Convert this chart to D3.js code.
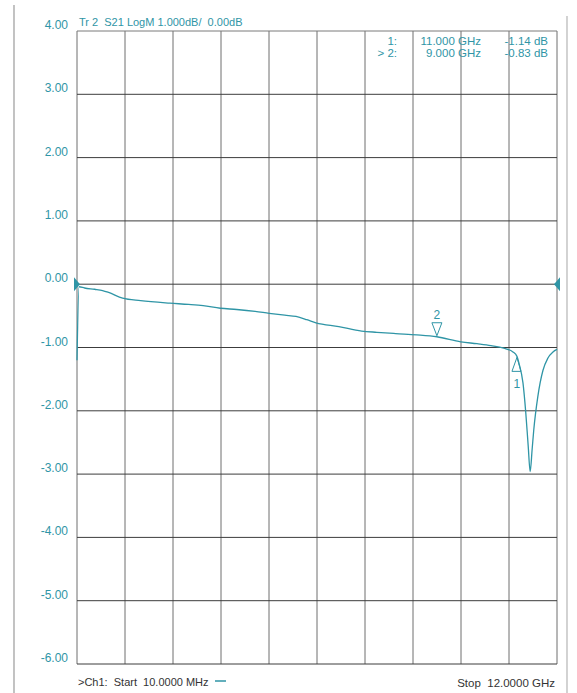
<!DOCTYPE html>
<html><head><meta charset="utf-8">
<script src="https://cdn.jsdelivr.net/npm/d3@7"></script>
<style>
html,body{margin:0;padding:0;background:#fff;}
svg text{font-family:"Liberation Sans",Arial,sans-serif;white-space:pre;}
</style></head>
<body>
<svg id="chart" width="577" height="693"></svg>
<script>
// ---- data ----
const startGHz = 0.01, stopGHz = 12.0;
const yTickValues = [4, 3, 2, 1, 0, -1, -2, -3, -4, -5, -6];
const yTickLabels = ["4.00","3.00","2.00","1.00","0.00","-1.00","-2.00","-3.00","-4.00","-5.00","-6.00"];
const freqGHz = [0.01, 0.06, 0.2, 0.45, 0.65, 0.8, 1.15, 1.6, 2.33, 2.8, 3.16, 3.59, 4.0, 4.46, 4.81, 5.2, 5.48, 5.75, 5.98, 6.55, 7.12, 7.5, 7.97, 8.5, 9.0, 9.6, 10.0, 10.35, 10.67, 10.9, 11.0, 11.05, 11.15, 11.22, 11.28, 11.33, 11.38, 11.42, 11.52, 11.65, 11.77, 11.9, 12.0];
const s21dB   = [-1.20, -0.04, -0.06, -0.08, -0.10, -0.13, -0.22, -0.26, -0.30, -0.32, -0.34, -0.38, -0.40, -0.43, -0.46, -0.49, -0.51, -0.56, -0.61, -0.67, -0.74, -0.76, -0.78, -0.80, -0.83, -0.91, -0.94, -0.97, -1.01, -1.07, -1.14, -1.25, -1.56, -2.03, -2.55, -2.96, -2.60, -2.30, -1.78, -1.36, -1.17, -1.07, -1.03];
const markerIds = ["1", "2"];
const markerFreq = [11.0, 9.0];
const markerVal = [-1.14, -0.83];
const markerFreqText = ["11.000 GHz", "9.000 GHz"];
const markerValText = ["-1.14 dB", "-0.83 dB"];
const markerPrefix = ["1:", "> 2:"];
const titleText = "Tr 2  S21 LogM 1.000dB/  0.00dB";
const startText = ">Ch1:  Start  10.0000 MHz";
const stopText = "Stop  12.0000 GHz";
const refLevel = 0;

// ---- layout ----
const teal = "#2f95a6";
const svg = d3.select("#chart");
const L = 77, R = 557, T = 31, B = 664;
const x = d3.scaleLinear().domain([startGHz, stopGHz]).range([L, R]);
const y = d3.scaleLinear().domain([-6, 4]).range([B, T]);

// page edges (scan)
svg.append("line").attr("x1",14).attr("x2",14).attr("y1",5).attr("y2",693).attr("stroke","#9a9a9a").attr("stroke-width",1.2);
svg.append("line").attr("x1",567).attr("x2",567).attr("y1",16).attr("y2",693).attr("stroke","#b5b5b5").attr("stroke-width",1.2);

// grid
const xDivs = d3.range(11).map(i => startGHz + i * (stopGHz - startGHz) / 10);
svg.append("g").selectAll("line").data(xDivs).join("line")
  .attr("x1", d => x(d)).attr("x2", d => x(d))
  .attr("y1", T).attr("y2", B)
  .attr("stroke", "#6e6e6e").attr("stroke-width", 1);
svg.append("g").selectAll("line").data(yTickValues).join("line")
  .attr("x1", L).attr("x2", R)
  .attr("y1", d => y(d)).attr("y2", d => y(d))
  .attr("stroke", d => d === 4 ? "#7a7a7a" : "#3c3c3c").attr("stroke-width", 1);

// y labels
svg.append("g").selectAll("text").data(yTickValues).join("text")
  .attr("x", 68).attr("y", d => y(d) - 2)
  .attr("text-anchor", "end").attr("font-size", 12).attr("fill", teal)
  .text((d, i) => yTickLabels[i]);

// title
svg.append("text").attr("x", 79).attr("y", 26).attr("font-size", 11).attr("fill", teal).text(titleText);

// marker readout
const ro = svg.append("g").attr("font-size", 11.5).attr("fill", teal);
markerIds.forEach((m, i) => {
  const by = 45 + i * 12;
  ro.append("text").attr("x", 397).attr("y", by).attr("text-anchor", "end").text(markerPrefix[i]);
  ro.append("text").attr("x", 481).attr("y", by).attr("text-anchor", "end").text(markerFreqText[i]);
  ro.append("text").attr("x", 548).attr("y", by).attr("text-anchor", "end").text(markerValText[i]);
});

// trace
const pts = freqGHz.map((f, i) => [f, s21dB[i]]);
svg.append("path").datum(pts)
  .attr("d", d3.line().x(d => x(d[0])).y(d => y(d[1])).curve(d3.curveMonotoneX))
  .attr("fill", "none").attr("stroke", teal).attr("stroke-width", 1.3);

// reference arrows
const ry = y(refLevel);
svg.append("path").attr("d", `M${L-3},${ry-7} L${L+3},${ry} L${L-3},${ry+7} Z`).attr("fill", teal);
svg.append("path").attr("d", `M${R+3},${ry-7} L${R-3},${ry} L${R+3},${ry+7} Z`).attr("fill", teal);

// markers
markerIds.forEach((m, i) => {
  const mx = x(markerFreq[i]), my = y(markerVal[i]);
  if (m === "2") {
    svg.append("path").attr("d", `M${mx-5},${my-14} L${mx+5},${my-14} L${mx},${my-1} Z`)
      .attr("fill", "none").attr("stroke", teal).attr("stroke-width", 1);
    svg.append("text").attr("x", mx).attr("y", my - 18).attr("text-anchor", "middle")
      .attr("font-size", 12).attr("fill", teal).text(m);
  } else {
    svg.append("path").attr("d", `M${mx},${my+1} L${mx-5},${my+15} L${mx+4},${my+15} Z`)
      .attr("fill", "none").attr("stroke", teal).attr("stroke-width", 1);
    svg.append("text").attr("x", mx).attr("y", my + 32).attr("text-anchor", "middle")
      .attr("font-size", 12).attr("fill", teal).text(m);
  }
});

// footer
svg.append("text").attr("x", 78).attr("y", 686).attr("font-size", 11).attr("fill", "#333").text(startText);
svg.append("line").attr("x1", 215).attr("x2", 226).attr("y1", 681).attr("y2", 681).attr("stroke", teal).attr("stroke-width", 1.5);
svg.append("text").attr("x", 555).attr("y", 687).attr("text-anchor", "end").attr("font-size", 11.5).attr("fill", "#333").text(stopText);
</script>
</body></html>
